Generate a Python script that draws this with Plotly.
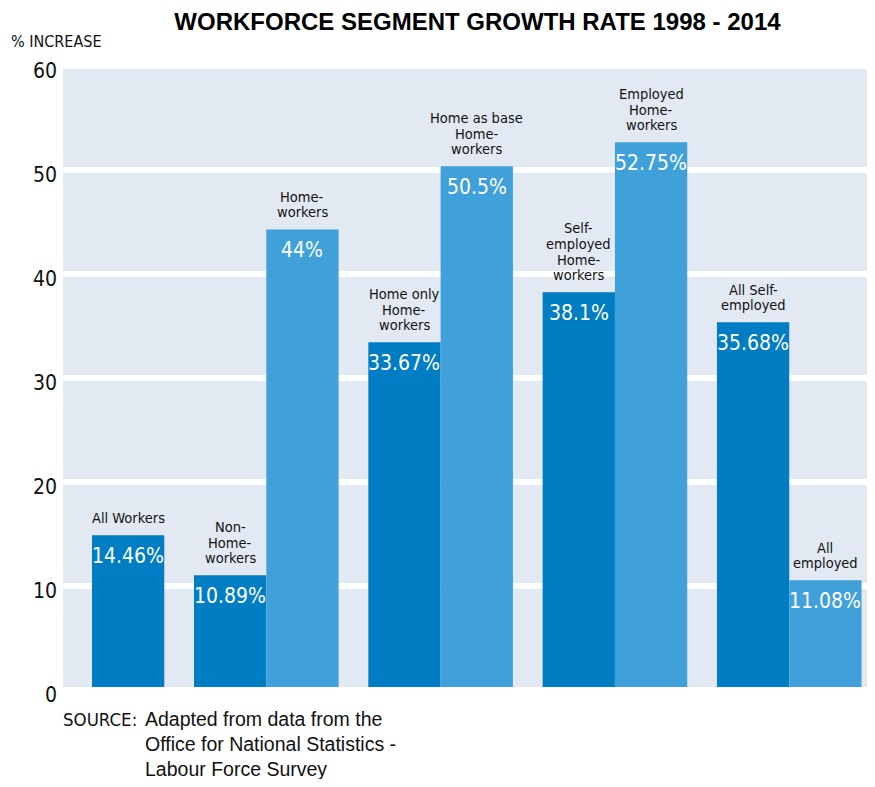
import plotly.graph_objects as go

# ---------------- data ----------------
categories = ["All Workers", "Non-Home-workers", "Home-workers",
              "Home only Home-workers", "Home as base Home-workers",
              "Self-employed Home-workers", "Employed Home-workers",
              "All Self-employed", "All employed"]
label_lines = [["All Workers"], ["Non-", "Home-", "workers"], ["Home-", "workers"],
               ["Home only", "Home-", "workers"], ["Home as base", "Home-", "workers"],
               ["Self-", "employed", "Home-", "workers"], ["Employed", "Home-", "workers"],
               ["All Self-", "employed"], ["All", "employed"]]
# printed growth rates (%)
value_labels = ["14.46%", "10.89%", "44%", "33.67%", "50.5%", "38.1%", "52.75%", "35.68%", "11.08%"]
# bar heights as drawn in the picture (% increase)
values = [14.59, 10.74, 44.0, 33.14, 50.07, 37.95, 52.38, 35.07, 10.26]
group_of = [0, 1, 1, 2, 2, 3, 3, 4, 4]
shade = ["dark", "dark", "light", "dark", "light", "dark", "light", "dark", "light"]
y_ticks = [0, 10, 20, 30, 40, 50, 60]
title_text = "WORKFORCE SEGMENT GROWTH RATE 1998 - 2014"
y_title = "% INCREASE"
source_head = "SOURCE:"
source_lines = ["Adapted from data from the", "Office for National Statistics -", "Labour Force Survey"]

# ---------------- styling ----------------
COL = {"dark": "#007DC3", "light": "#40A0D9"}
BG = "#E3E9F3"
NARROW = "DejaVu Sans Condensed, sans-serif"
WIDE = "Liberation Sans, Arial, sans-serif"
GAP = 0.411        # gap between groups, in bar widths
BAND = 0.577       # white grid band thickness (data units, ~6px), drawn below each tick
SRC_Y = -0.0518    # paper y of first source line
SRC_STEP = 25      # px between source lines

# bar centre positions (layout computation)
pos = []
x = 0.0
prev = group_of[0]
for g in group_of:
    if g != prev:
        x += GAP
        prev = g
    pos.append(x + 0.5)
    x += 1.0

fig = go.Figure()
for s in ["dark", "light"]:
    idx = [i for i in range(len(values)) if shade[i] == s]
    fig.add_trace(go.Bar(
        x=[pos[i] for i in idx], y=[values[i] for i in idx],
        width=1.0, marker=dict(color=COL[s], line=dict(width=0)),
        hoverinfo="skip", showlegend=False,
        name=s,
    ))

annotations = []
for i, v in enumerate(values):
    # value label inside the bar
    annotations.append(dict(x=pos[i], y=v, xref="x", yref="y", text=value_labels[i],
                            showarrow=False, yanchor="middle", yshift=-21,
                            font=dict(family=NARROW, size=21, color="white")))
    # category label above the bar (one annotation per line for tight leading)
    lines = label_lines[i]
    for k, line in enumerate(reversed(lines)):
        annotations.append(dict(x=pos[i], y=v, xref="x", yref="y", text=line,
                                showarrow=False, yanchor="middle", yshift=17 + 15.7 * k,
                                font=dict(family=NARROW, size=14.5, color="#111111")))

# axis title
annotations.append(dict(x=-0.0665, y=1.0348, xref="paper", yref="paper", text=y_title,
                        showarrow=False, xanchor="left", yanchor="middle",
                        font=dict(family=NARROW, size=16, color="#111111")))
# source
annotations.append(dict(x=0.0936, y=SRC_Y, xref="paper", yref="paper", text=source_head,
                        showarrow=False, xanchor="right", yanchor="middle",
                        font=dict(family=NARROW, size=18.5, color="#111111")))
for k, line in enumerate(source_lines):
    annotations.append(dict(x=0.0985, y=SRC_Y, xref="paper", yref="paper", text=line,
                            showarrow=False, xanchor="left", yanchor="middle",
                            yshift=-SRC_STEP * k,
                            font=dict(family=WIDE, size=19.5, color="#111111")))

shapes = [dict(type="rect", xref="paper", x0=0, x1=1, yref="y", y0=t - BAND, y1=t,
               fillcolor="white", line=dict(width=0), layer="below")
          for t in y_ticks if t > 0]

# page body has an 8px margin, so the figure sits at (8, 8) in the window
fig.update_layout(
    width=867, height=771, autosize=False,
    margin=dict(l=55, r=0, t=54.7, b=92.3),
    paper_bgcolor="white", plot_bgcolor=BG,
    barmode="overlay",
    title=dict(text=title_text, x=0.5415, xref="container", xanchor="center",
               y=1 - 13.5 / 771, yref="container", yanchor="middle",
               font=dict(family=WIDE, size=24, color="black", weight="bold")),
    xaxis=dict(range=[-0.401, 10.83], showgrid=False, zeroline=False,
               showticklabels=False, ticks="", fixedrange=True),
    yaxis=dict(range=[0, 60], tickvals=y_ticks, showgrid=False, zeroline=False,
               ticks="", ticklabelstandoff=5, ticklabelshift=8,
               tickfont=dict(family=NARROW, size=21, color="#111111")),
    annotations=annotations,
    shapes=shapes,
    showlegend=False,
)

fig.write_html("out.html")
